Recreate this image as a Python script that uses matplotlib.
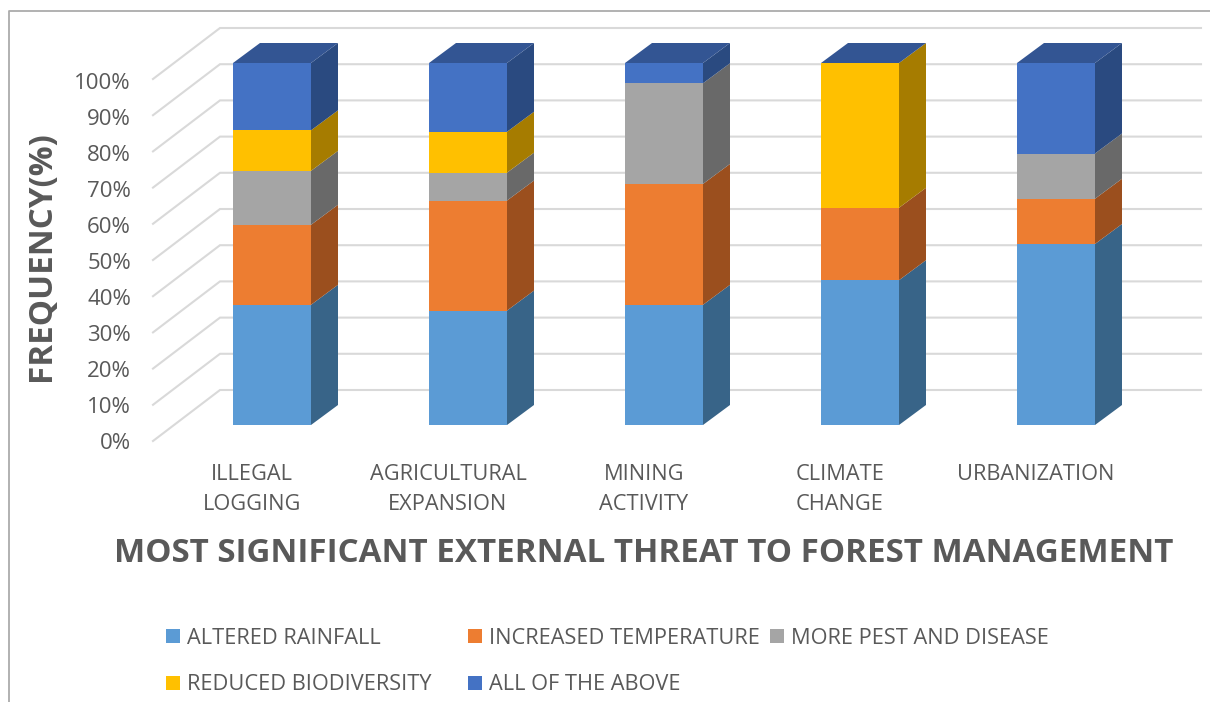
import numpy as np
import matplotlib
matplotlib.use("Agg")
import matplotlib.pyplot as plt
from matplotlib.patches import Rectangle

plt.rcParams["font.family"] = ["Open Sans", "DejaVu Sans"]

W, H = 1210, 702
TEXT = "#595959"

categories = ["ILLEGAL\nLOGGING", "AGRICULTURAL\nEXPANSION", "MINING\nACTIVITY",
              "CLIMATE\nCHANGE", "URBANIZATION"]
series = ["ALTERED RAINFALL", "INCREASED TEMPERATURE", "MORE PEST AND DISEASE",
          "REDUCED BIODIVERSITY", "ALL OF THE ABOVE"]

altered = [33.2, 31.6, 33.2, 40.0, 50.0]
temperature = [22.1, 30.4, 33.4, 20.0, 12.5]
pest = [14.9, 7.7, 27.8, 0.0, 12.5]
biodiversity = [11.2, 11.3, 0.0, 40.0, 0.0]
all_above = [18.6, 19.0, 5.6, 0.0, 25.0]

front_colors = ["#5B9BD5", "#ED7D31", "#A5A5A5", "#FFC000", "#4472C4"]
side_colors = ["#386488", "#9B4F1E", "#696969", "#A67C00", "#2A4A80"]
top_color = "#335593"
ticks = np.arange(0, 101, 10)

fig = plt.figure(figsize=(W / 100, H / 100), dpi=100)
ax = fig.add_axes([0, 0, 1, 1])

# one category step is 196 px and 1% is 3.62 px; the bar at index 0 is centred on x=272
ax.set_xlim((0 - 272) / 196, (W - 272) / 196)
ax.set_ylim((425 - H) / 3.62, 425 / 3.62)
ax.axis("off")


def fx(px):
    return px / W


def fy(py):
    return 1 - py / H


# oblique offsets, in data units
bar_half = 39 / 196
bar_dx, bar_dy = 27 / 196, 20 / 3.62
wall_dx, wall_dy = 67 / 196, 51 / 3.62
grid_left = (153 - 272) / 196
grid_right = (1201 - 272) / 196
grid_drop = -16 / 3.62

# gridlines run along the floor side and then across the back wall
for t in ticks:
    y0 = t + grid_drop
    ax.plot([grid_left, grid_left + wall_dx, grid_right], [y0, y0 + wall_dy, y0 + wall_dy],
            color="#D9D9D9", lw=1.5, zorder=1, solid_joinstyle="miter")

values = np.array([altered, temperature, pest, biodiversity, all_above])
bottoms = np.vstack([np.zeros(len(categories)), values.cumsum(axis=0)[:-1]])

for i in range(len(categories)):
    left, right = i - bar_half, i + bar_half
    for s in range(len(series)):
        lo, hi = bottoms[s, i], bottoms[s, i] + values[s, i]
        if values[s, i] == 0:
            continue
        ax.fill([left, right, right, left], [lo, lo, hi, hi], color=front_colors[s], lw=0, zorder=3)
        ax.fill([right, right + bar_dx, right + bar_dx, right],
                [lo, lo + bar_dy, hi + bar_dy, hi], color=side_colors[s], lw=0, zorder=3)
    top = values[:, i].sum()
    ax.fill([left, right, right + bar_dx, left + bar_dx],
            [top, top, top + bar_dy, top + bar_dy], color=top_color, lw=0, zorder=3)

# chart frame, open on the right and at the bottom
fig.add_artist(plt.Line2D([fx(9), fx(9), fx(W)], [fy(H), fy(11), fy(11)],
                          color="#ABABAB", lw=1.3))

for t in ticks:
    fig.text(fx(131), fy(443.5 - t * 3.6), f"{t}%", ha="right", va="center", fontsize=16, color=TEXT)

for i, label in enumerate(categories):
    first, *rest = label.split("\n")
    cx = 252 + i * 196
    fig.text(fx(cx), fy(474), first, ha="center", va="center", fontsize=15.7, color=TEXT)
    if rest:
        fig.text(fx(cx), fy(505), rest[0], ha="center", va="center", fontsize=15.7, color=TEXT)

fig.text(fx(42), fy(256), "FREQUENCY(%)", rotation=90, ha="center", va="center",
         fontsize=23.9, fontweight="bold", color=TEXT)
fig.text(fx(644), fy(554), "MOST SIGNIFICANT EXTERNAL THREAT TO FOREST MANAGEMENT",
         ha="center", va="center", fontsize=23.9, fontweight="bold", color=TEXT)

# legend laid out in two rows
legend_pos = [(166, 636), (468, 636), (770, 636), (166, 683), (468, 683)]
for name, color, (lx, ly) in zip(series, front_colors, legend_pos):
    fig.add_artist(Rectangle((fx(lx), fy(ly + 7)), 14 / W, 14 / H, color=color, lw=0,
                             transform=fig.transFigure))
    fig.text(fx(lx + 21), fy(ly + 2), name, ha="left", va="center", fontsize=15.65, color=TEXT)

plt.savefig("out.png", dpi=100)
